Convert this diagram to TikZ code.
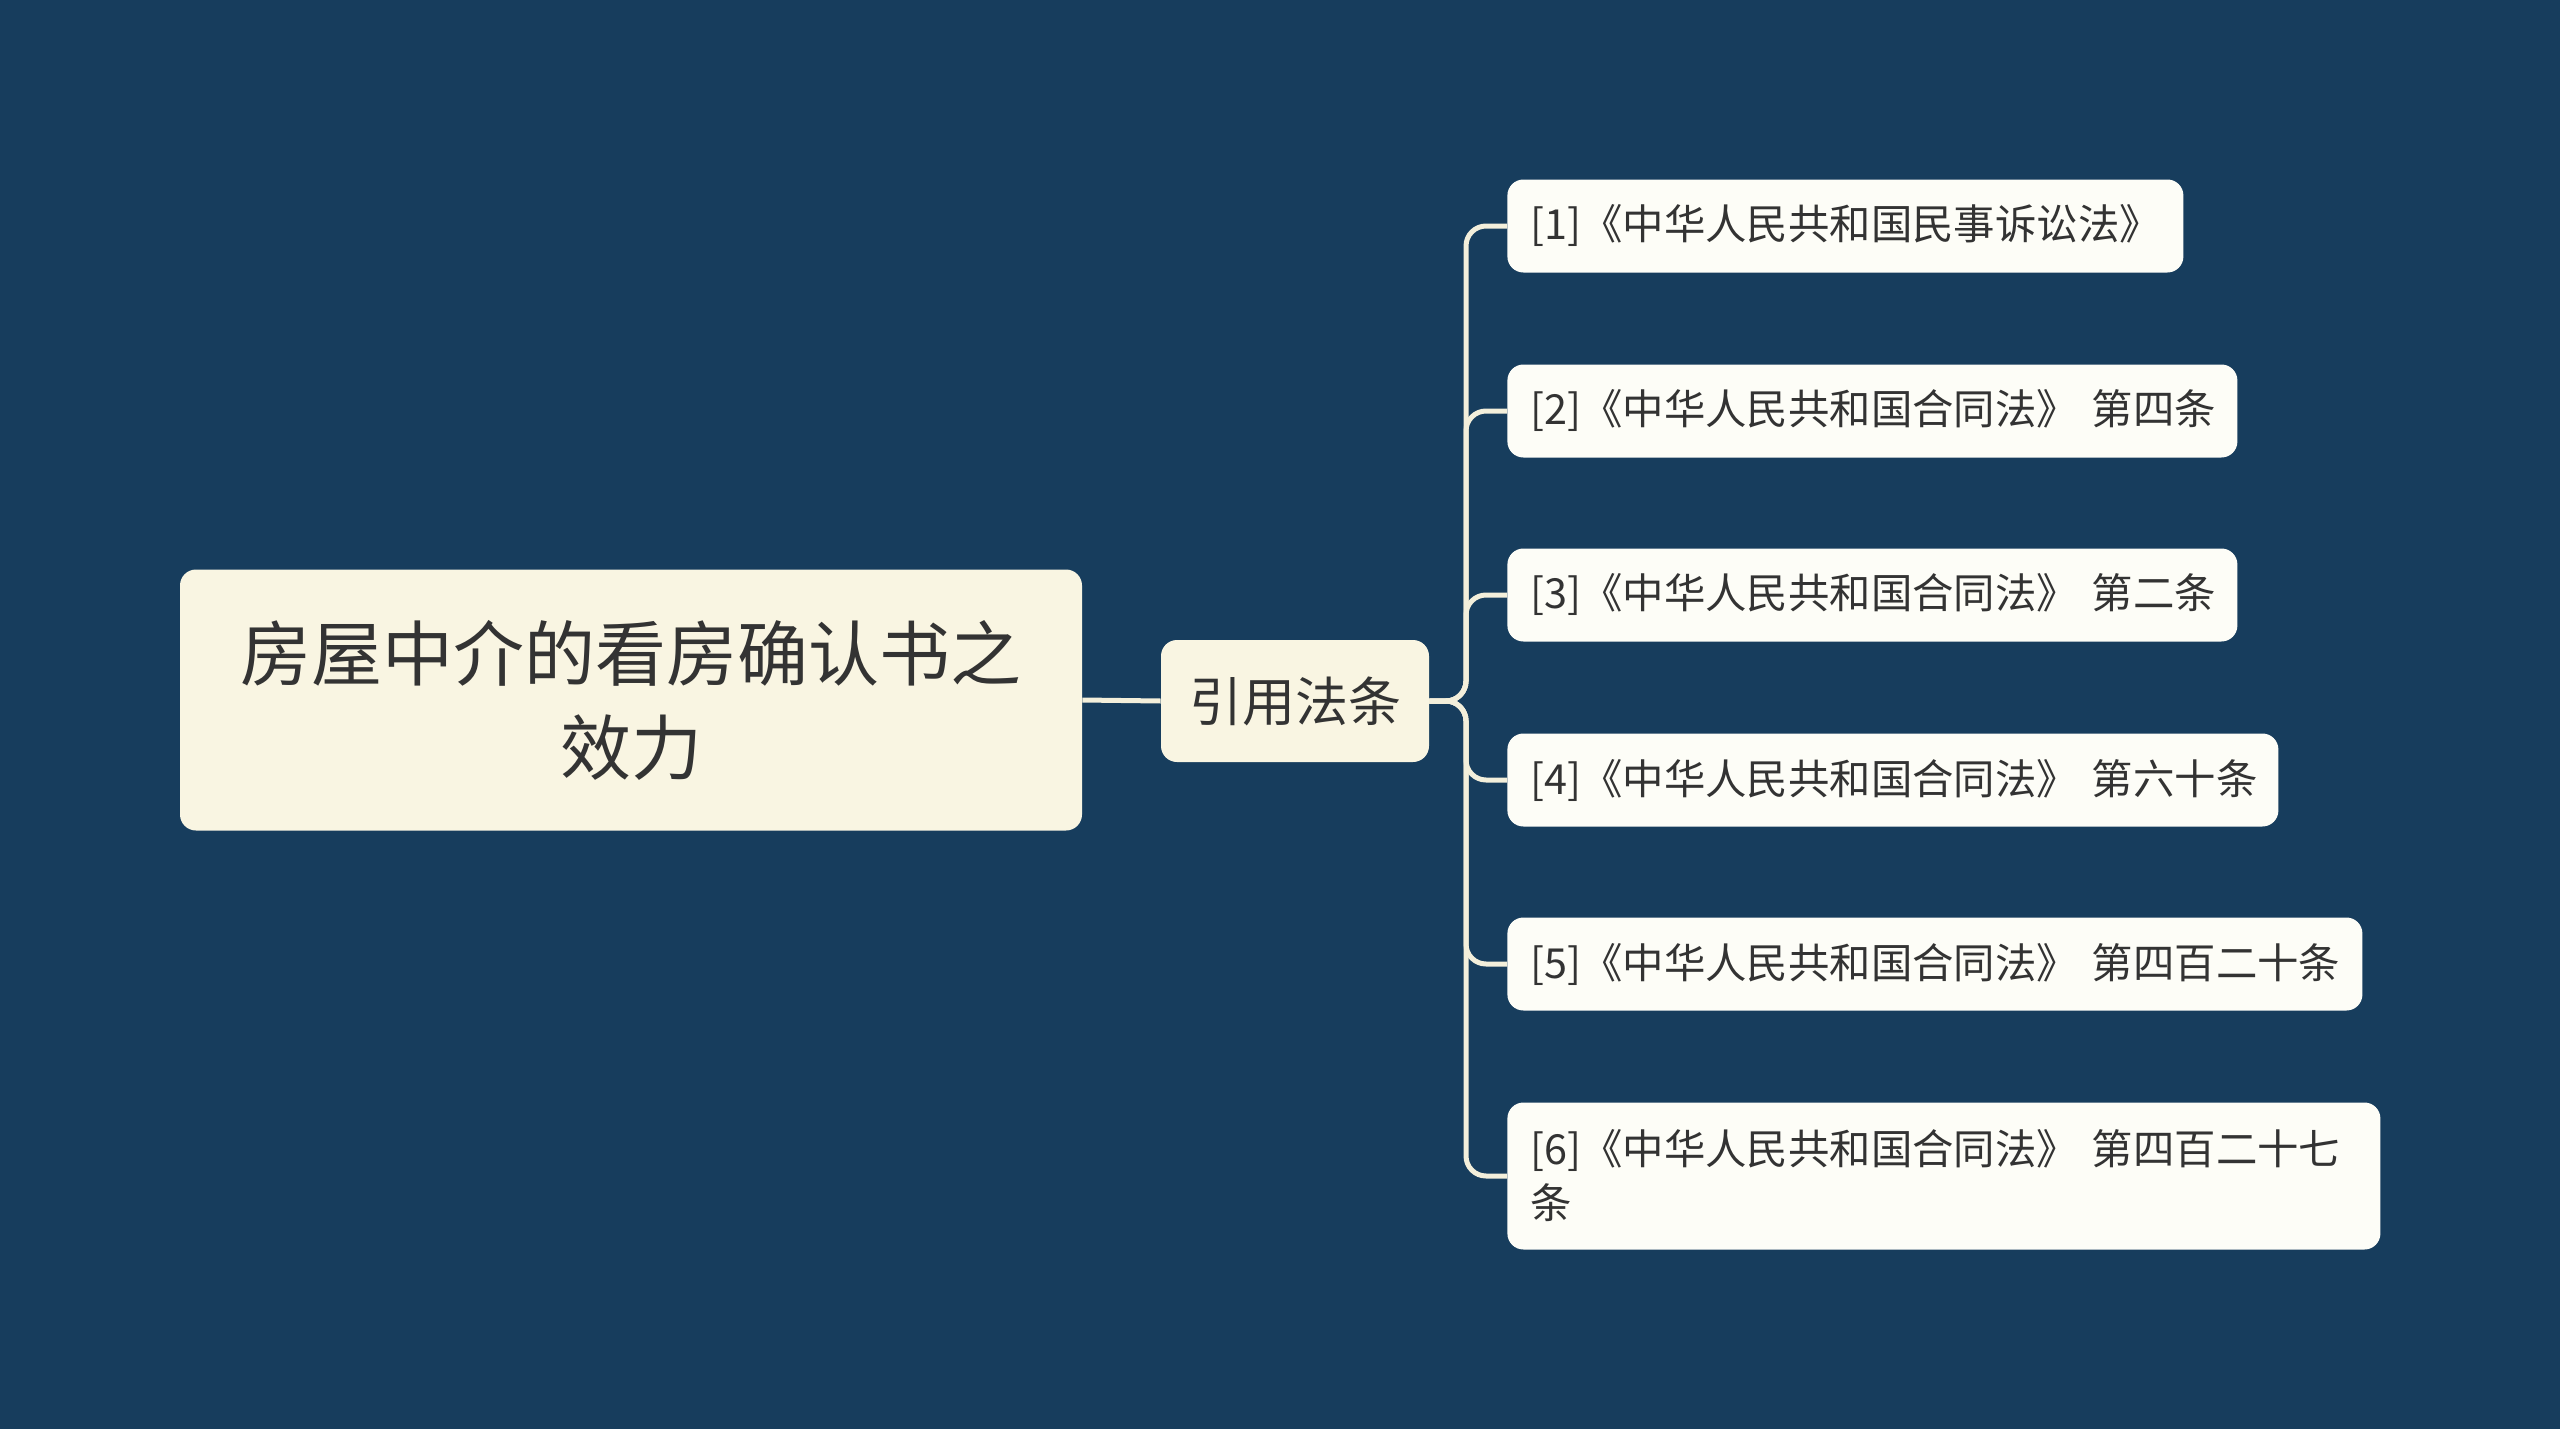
\documentclass[tikz,border=0pt]{standalone}
\usepackage{fontspec}
\setmainfont{Noto Sans CJK SC}
\definecolor{bg}{HTML}{173D5D}
\definecolor{rootfill}{HTML}{F9F5E2}
\definecolor{leaffill}{HTML}{FDFDF7}
\definecolor{linec}{HTML}{F3EFDB}
\definecolor{txt}{HTML}{333333}
\begin{document}
\begin{tikzpicture}[x=0.5pt,y=-0.5pt,
  rootbox/.style={fill=rootfill,rounded corners=8pt,minimum width=451pt,minimum height=130.5pt,
    align=center,text=txt,font=\fontsize{35.5pt}{47pt}\selectfont,inner sep=0pt},
  midbox/.style={fill=rootfill,rounded corners=8pt,minimum width=134pt,minimum height=61pt,
    text=txt,font=\fontsize{26.5pt}{32pt}\selectfont,inner sep=0pt},
  leaf/.style={fill=leaffill,rounded corners=8pt,anchor=west,align=left,text=txt,
    font=\fontsize{20.7pt}{27pt}\selectfont,inner xsep=11.5pt,inner ysep=0pt,minimum height=46.5pt},
  conn/.style={draw=linec,line width=2.5pt,rounded corners=10pt}]
\fill[bg] (0,0) rectangle (2560,1429);
\useasboundingbox (0,0) rectangle (2560,1429);
\node[rootbox] (root) at (631,700) {房屋中介的看房确认书之\\效力};
\node[midbox] (mid) at (1295,701) {引用法条};
\coordinate (tr) at (1466,701);
\node[leaf,text width=315pt] (l1) at (1507,226) {[1]《中华人民共和国民事诉讼法》};
\node[leaf,text width=342pt] (l2) at (1507,411) {[2]《中华人民共和国合同法》~第四条};
\node[leaf,text width=342pt] (l3) at (1507,595) {[3]《中华人民共和国合同法》~第二条};
\node[leaf,text width=362.5pt] (l4) at (1507,780) {[4]《中华人民共和国合同法》~第六十条};
\node[leaf,text width=404.5pt] (l5) at (1507,964) {[5]《中华人民共和国合同法》~第四百二十条};
\node[leaf,text width=413.5pt,minimum height=73.5pt] (l6) at (1507,1176) {[6]《中华人民共和国合同法》~第四百二十七\\条};
\draw[conn] (root.east) -- (mid.west);
\foreach \n in {l1,l2,l3,l4,l5,l6}{
  \draw[conn] (mid.east) -- (tr) |- (\n.west);
}
\end{tikzpicture}
\end{document}
